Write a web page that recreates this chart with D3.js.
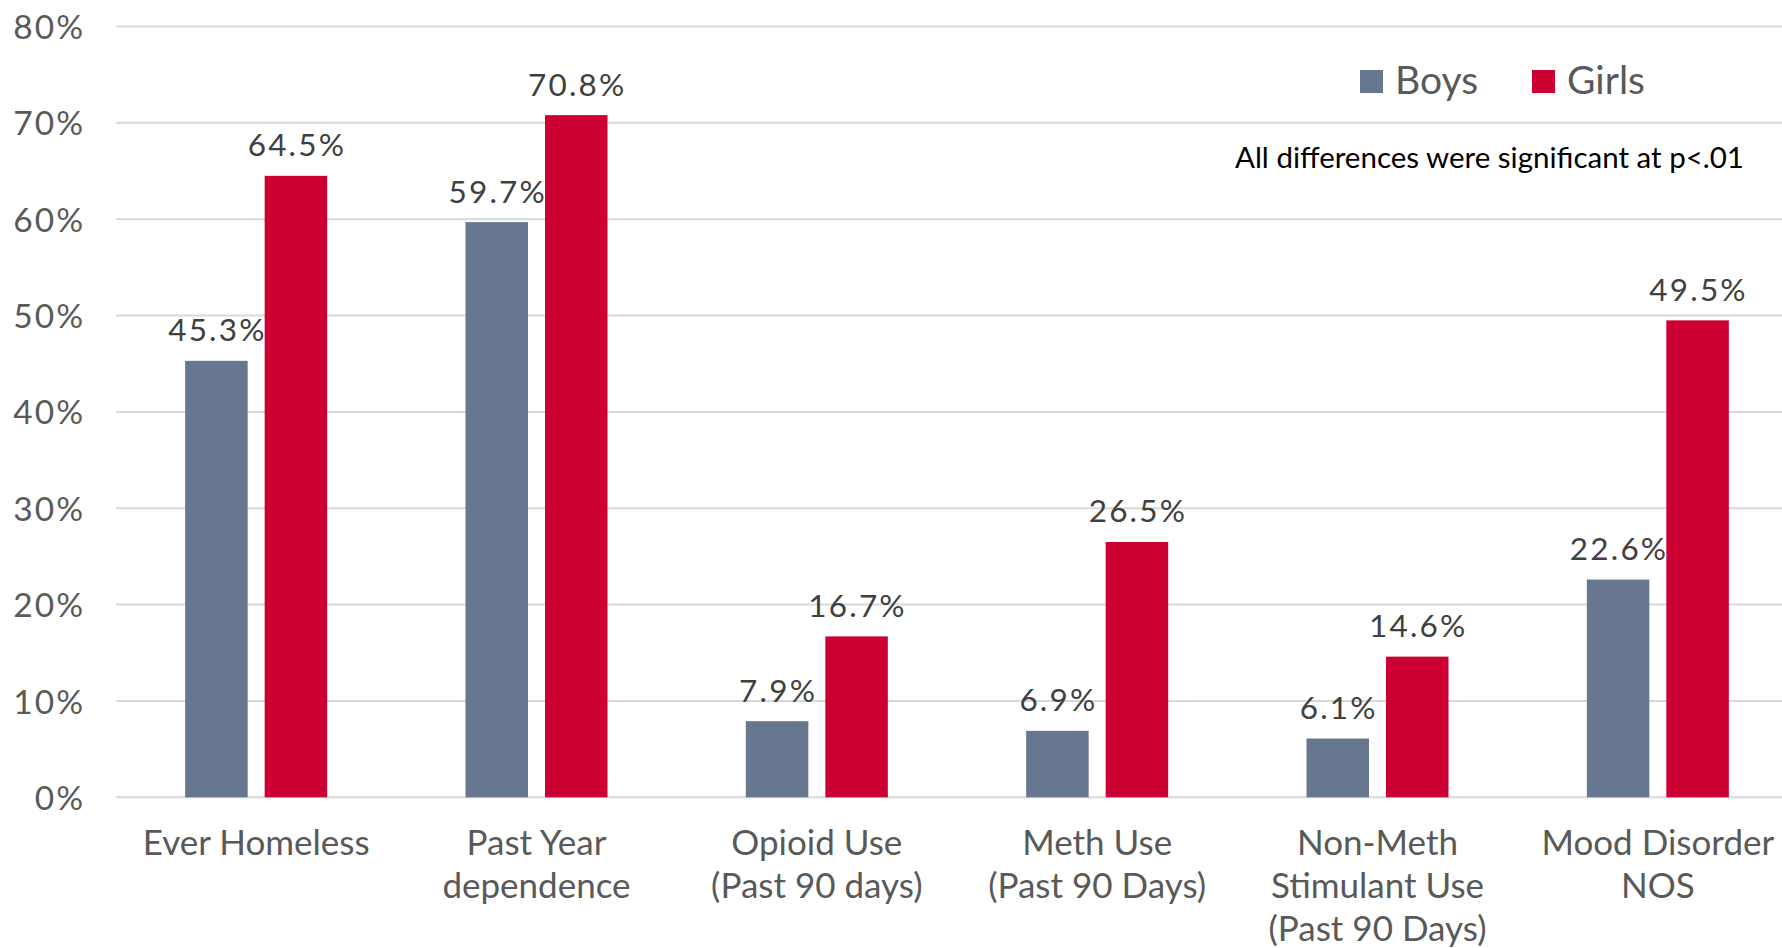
<!DOCTYPE html>
<html>
<head>
<meta charset="utf-8">
<script src="https://cdn.jsdelivr.net/npm/d3@7"></script>
<style>
  html, body { margin: 0; padding: 0; background: #fff; overflow: hidden; }
  svg { display: block; }
</style>
</head>
<body>
<svg id="chart" width="1782" height="948"></svg>
<script>
const categories = [
  ["Ever Homeless"],
  ["Past Year", "dependence"],
  ["Opioid Use", "(Past 90 days)"],
  ["Meth Use", "(Past 90 Days)"],
  ["Non-Meth", "Stimulant Use", "(Past 90 Days)"],
  ["Mood Disorder", "NOS"]
];
const seriesNames = ["Boys", "Girls"];
const boysValues = [45.3, 59.7, 7.9, 6.9, 6.1, 22.6];
const girlsValues = [64.5, 70.8, 16.7, 26.5, 14.6, 49.5];
const yTicks = [0, 10, 20, 30, 40, 50, 60, 70, 80];
const colors = { Boys: "#67778F", Girls: "#CC0033" };
const note = "All differences were significant at p<.01";

const FONT = "Lato, 'Open Sans', sans-serif";
const TEXT = "#595959";

const svg = d3.select("#chart");
const catKeys = categories.map(c => c.join(" "));
const data = catKeys.map((k, i) => ({ key: k, lines: categories[i], Boys: boysValues[i], Girls: girlsValues[i] }));

const x0 = d3.scaleBand().domain(catKeys).range([116, 1798]).paddingInner(0).paddingOuter(0);
const groupInner = 142;
const x1 = d3.scaleBand().domain(seriesNames)
  .range([(x0.bandwidth() - groupInner) / 2, (x0.bandwidth() + groupInner) / 2])
  .paddingInner(17 / 79.5).paddingOuter(0);
const y = d3.scaleLinear().domain([0, 80]).range([797.3, 26.5]);

// y axis labels
const yAxis = d3.axisLeft(y).tickValues(yTicks).tickFormat(d => d + "%").tickSize(0).tickPadding(0);
const ga = svg.append("g").attr("transform", "translate(85,0)").call(yAxis);
ga.select(".domain").remove();
ga.selectAll("text").attr("font-family", FONT).attr("font-size", 33.5).attr("letter-spacing", 2)
  .attr("fill", TEXT).attr("dy", "0.36em").attr("x", 0);

// gridlines
svg.append("g").selectAll("line").data(yTicks).join("line")
  .attr("x1", 116).attr("x2", 1782)
  .attr("y1", d => y(d)).attr("y2", d => y(d))
  .attr("stroke", "#D9D9D9").attr("stroke-width", 2);

// bars
const groups = svg.append("g").selectAll("g").data(data).join("g")
  .attr("transform", d => `translate(${x0(d.key)},0)`);
groups.selectAll("rect").data(d => seriesNames.map(s => ({ s, v: d[s] }))).join("rect")
  .attr("x", d => x1(d.s)).attr("width", x1.bandwidth())
  .attr("y", d => y(d.v)).attr("height", d => y(0) - y(d.v))
  .attr("fill", d => colors[d.s]);
groups.selectAll("text.val").data(d => seriesNames.map(s => ({ s, v: d[s] }))).join("text")
  .attr("class", "val")
  .attr("x", d => x1(d.s) + x1.bandwidth() / 2 + 1)
  .attr("y", d => y(d.v) - 19.5)
  .attr("text-anchor", "middle")
  .attr("font-family", FONT).attr("font-size", 31.5).attr("letter-spacing", 2.2).attr("fill", "#404040")
  .text(d => d.v.toFixed(1) + "%");

// category labels
const xAxis = svg.append("g");
data.forEach(d => {
  const cx = x0(d.key) + x0.bandwidth() / 2;
  const t = xAxis.append("text").attr("text-anchor", "middle")
    .attr("font-family", FONT).attr("font-size", 35).attr("fill", TEXT);
  d.lines.forEach((ln, i) => {
    t.append("tspan").attr("x", cx).attr("y", 855 + i * 43).text(ln);
  });
});

// legend
const legend = svg.append("g");
const legendItems = [{ s: "Boys", x: 1360 }, { s: "Girls", x: 1532 }];
legendItems.forEach(it => {
  legend.append("rect").attr("x", it.x).attr("y", 70).attr("width", 23).attr("height", 23).attr("fill", colors[it.s]);
  legend.append("text").attr("x", it.x + 35).attr("y", 94)
    .attr("font-family", FONT).attr("font-size", 39).attr("fill", TEXT).text(it.s);
});

svg.append("text").attr("x", 1235).attr("y", 168)
  .attr("font-family", FONT).attr("font-size", 29.5).attr("fill", "#000").text(note);
</script>
</body>
</html>
